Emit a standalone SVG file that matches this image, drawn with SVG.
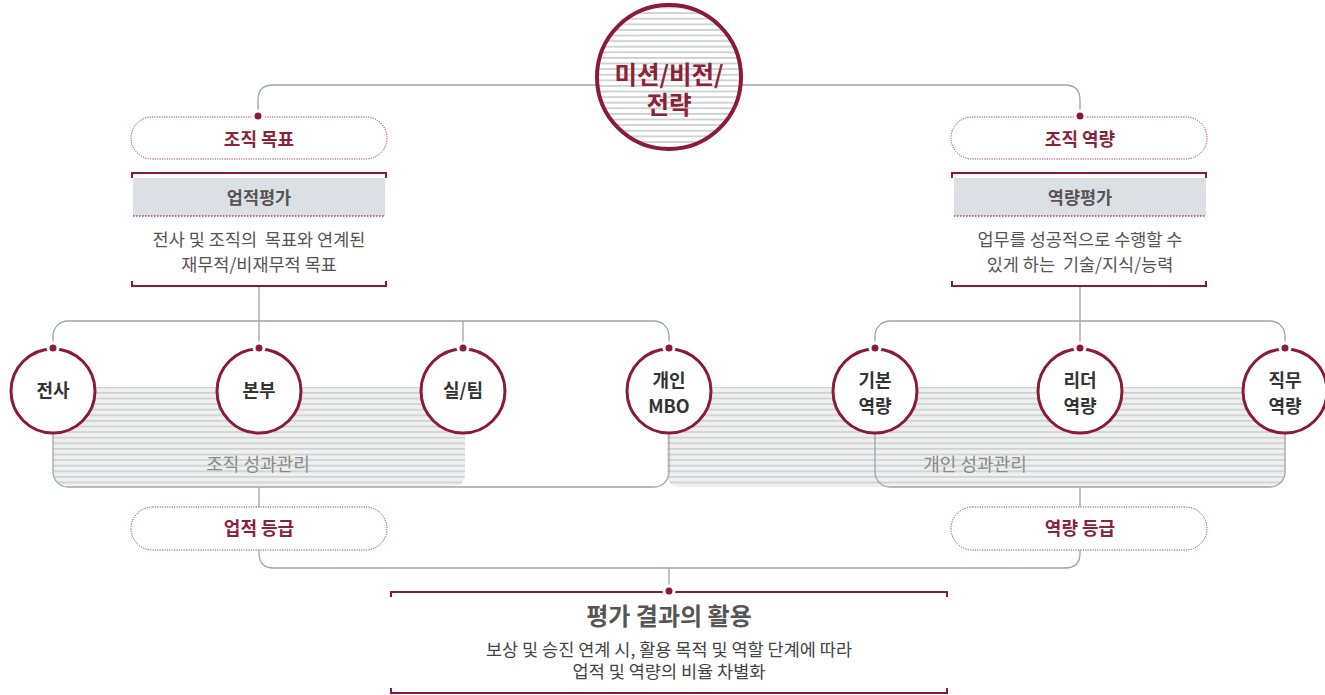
<svg xmlns="http://www.w3.org/2000/svg" width="1325" height="695" viewBox="0 0 1325 695">
<defs>
<pattern id="stripeBand" patternUnits="userSpaceOnUse" width="10" height="5.6">
<rect width="10" height="5.6" fill="#eef0ef"/>
<rect y="0" width="10" height="1.7" fill="#cfd2d2"/>
</pattern>
<pattern id="stripeBig" patternUnits="userSpaceOnUse" width="10" height="5.6" y="1">
<rect width="10" height="5.6" fill="#ffffff"/>
<rect y="0" width="10" height="1.8" fill="#cdd0d1"/>
</pattern>
<style>
.t{font-family:"Noto Sans CJK KR","Noto Sans",sans-serif;text-anchor:middle;white-space:pre}
.pill{fill:#fff;stroke:#9c3852;stroke-width:1;stroke-dasharray:1.2 1.2}
.pt{font-size:18px;font-weight:700;fill:#8b2338}
.bt{font-size:17.5px;font-weight:700;fill:#555}
.dt{font-size:17.5px;fill:#555}
.ct{font-size:18px;font-weight:700;fill:#333}
.lt{font-size:18px;fill:#8a8a8a}
.con{fill:none;stroke:#9ea4ab;stroke-width:1.3}
.br{fill:none;stroke:#8b1a36;stroke-width:2}
.node{fill:#fff;stroke:#8b1a36;stroke-width:3}
.dot{fill:#8b1a36;stroke:#fff;stroke-width:3}
.band{fill:#dcdfe4}
.dotline{stroke:#a3455b;stroke-width:1.5;stroke-dasharray:1.5 1.5}
</style>
</defs>

<!-- stripe bands -->
<g id="bands">
<path d="M53,387 H465 V474 Q465,486 453,486 H68 Q53,486 53,471 Z" fill="url(#stripeBand)"/>
<path d="M667,387 H1285 V472 Q1285,487 1270,487 H681 Q667,487 667,473 Z" fill="url(#stripeBand)"/>
<text class="t lt" x="258" y="471">조직 성과관리</text>
<text class="t lt" x="975" y="471">개인 성과관리</text>
</g>

<g id="connectors">
<path class="con" d="M258,115 V100 Q258,85 273,85 H1065 Q1080,85 1080,100 V115"/>
<path class="con" d="M259,286 V348"/>
<path class="con" d="M1080,286 V348"/>
<path class="con" d="M463,321 V348"/>
<rect class="con" x="53" y="321" width="616" height="166" rx="15"/>
<rect class="con" x="875" y="321" width="410" height="166" rx="15"/>
<path class="con" d="M259,487 V507"/>
<path class="con" d="M1080,487 V507"/>
<path class="con" d="M259,550 V553 Q259,568 274,568 H1065 Q1080,568 1080,553 V550"/>
<path class="con" d="M669,568 V591"/>
</g>

<g id="mission">
<circle cx="669" cy="77" r="72" fill="url(#stripeBig)" stroke="#8b1a36" stroke-width="4"/>
<text class="t" x="669" y="84" font-size="24.5" font-weight="700" fill="#8b2338">미션/비전/</text>
<text class="t" x="669" y="114" font-size="24.5" font-weight="700" fill="#8b2338">전략</text>
</g>

<g id="org-goal">
<rect class="pill" x="131" y="117" width="256" height="42" rx="21"/>
<circle class="dot" cx="258" cy="116" r="5"/>
<text class="t pt" x="259" y="146">조직 목표</text>
</g>

<g id="org-competency">
<rect class="pill" x="951" y="117" width="256" height="42" rx="21"/>
<circle class="dot" cx="1080" cy="116" r="5"/>
<text class="t pt" x="1080" y="146">조직 역량</text>
</g>

<g id="perf-eval">
<path class="br" d="M132,178 V173 H386 V178"/>
<rect class="band" x="133" y="178" width="252" height="38"/>
<line class="dotline" x1="133" y1="216" x2="385" y2="216"/>
<text class="t bt" x="259" y="204">업적평가</text>
<text class="t dt" x="259" y="246" xml:space="preserve">전사 및 조직의  목표와 연계된</text>
<text class="t dt" x="259" y="271">재무적/비재무적 목표</text>
<path class="br" d="M132,281 V286 H386 V281"/>
</g>

<g id="comp-eval">
<path class="br" d="M952,178 V173 H1206 V178"/>
<rect class="band" x="954" y="178" width="252" height="38"/>
<line class="dotline" x1="954" y1="216" x2="1206" y2="216"/>
<text class="t bt" x="1080" y="204">역량평가</text>
<text class="t dt" x="1080" y="246">업무를 성공적으로 수행할 수</text>
<text class="t dt" x="1080" y="271" xml:space="preserve">있게 하는  기술/지식/능력</text>
<path class="br" d="M952,281 V286 H1206 V281"/>
</g>

<g id="n-company">
<circle class="node" cx="53" cy="391" r="42"/>
<circle class="dot" cx="53" cy="348" r="5"/>
<text class="t ct" x="53" y="397">전사</text>
</g>
<g id="n-division">
<circle class="node" cx="259" cy="391" r="42"/>
<circle class="dot" cx="259" cy="348" r="5"/>
<text class="t ct" x="259" y="397">본부</text>
</g>
<g id="n-team">
<circle class="node" cx="463" cy="391" r="42"/>
<circle class="dot" cx="463" cy="348" r="5"/>
<text class="t ct" x="463" y="397">실/팀</text>
</g>
<g id="n-mbo">
<circle class="node" cx="669" cy="391" r="42"/>
<circle class="dot" cx="669" cy="348" r="5"/>
<text class="t ct" x="669" y="387">개인</text>
<text class="t ct" x="669" y="413">MBO</text>
</g>
<g id="n-basic">
<circle class="node" cx="875" cy="391" r="42"/>
<circle class="dot" cx="875" cy="348" r="5"/>
<text class="t ct" x="875" y="387">기본</text>
<text class="t ct" x="875" y="413">역량</text>
</g>
<g id="n-leader">
<circle class="node" cx="1080" cy="391" r="42"/>
<circle class="dot" cx="1080" cy="348" r="5"/>
<text class="t ct" x="1080" y="387">리더</text>
<text class="t ct" x="1080" y="413">역량</text>
</g>
<g id="n-job">
<circle class="node" cx="1285" cy="391" r="42"/>
<circle class="dot" cx="1285" cy="348" r="5"/>
<text class="t ct" x="1285" y="387">직무</text>
<text class="t ct" x="1285" y="413">역량</text>
</g>

<g id="perf-grade">
<rect class="pill" x="131" y="507" width="256" height="43" rx="21.5"/>
<text class="t pt" x="259" y="535">업적 등급</text>
</g>
<g id="comp-grade">
<rect class="pill" x="951" y="507" width="256" height="43" rx="21.5"/>
<text class="t pt" x="1080" y="535">역량 등급</text>
</g>

<g id="result-use">
<path class="br" d="M391,597 V592 H947 V597"/>
<circle class="dot" cx="669" cy="591" r="5"/>
<text class="t" x="669" y="625" font-size="24" font-weight="700" fill="#555">평가 결과의 활용</text>
<text class="t" x="669" y="656" font-size="17.5" fill="#444">보상 및 승진 연계 시, 활용 목적 및 역할 단계에 따라</text>
<text class="t" x="669" y="678" font-size="17.5" fill="#444">업적 및 역량의 비율 차별화</text>
<path class="br" d="M391,688 V693 H947 V688"/>
</g>
</svg>
